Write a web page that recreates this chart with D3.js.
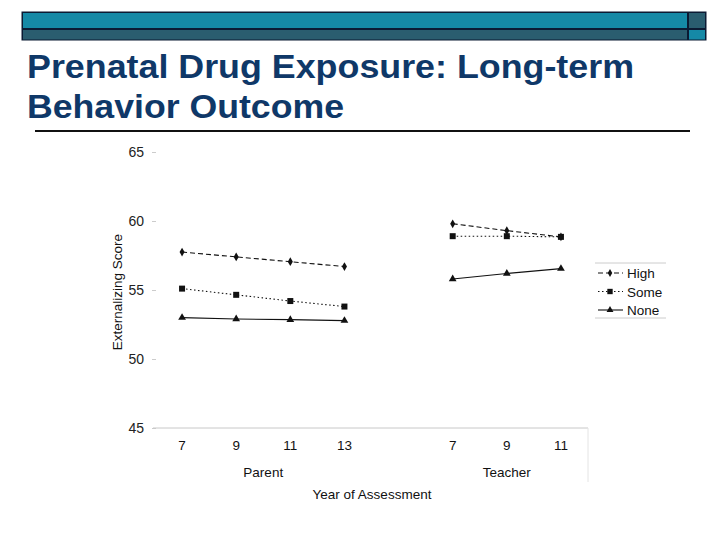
<!DOCTYPE html>
<html><head><meta charset="utf-8">
<script src="https://cdn.jsdelivr.net/npm/d3@7"></script>
<style>body{margin:0;background:#fff}svg{display:block}</style>
</head><body>
<script>
const titleLines = ["Prenatal Drug Exposure: Long-term", "Behavior Outcome"];
const slots = ["P7", "P9", "P11", "P13", "gap", "T7", "T9", "T11"];
const slotLabels = ["7", "9", "11", "13", "", "7", "9", "11"];
const groups = [{name: "Parent", keys: ["P7", "P9", "P11", "P13"]}, {name: "Teacher", keys: ["T7", "T9", "T11"]}];
const yTicks = [45, 50, 55, 60, 65];
const highParent = [57.75, 57.4, 57.05, 56.7];
const highTeacher = [59.8, 59.3, 58.85];
const someParent = [55.1, 54.65, 54.2, 53.8];
const someTeacher = [58.9, 58.9, 58.85];
const noneParent = [53.0, 52.9, 52.85, 52.78];
const noneTeacher = [55.8, 56.2, 56.55];
const seriesNames = ["High", "Some", "None"];

const W = 720, H = 540;
const svg = d3.select("body").append("svg").attr("width", W).attr("height", H);

// header bars
svg.append("rect").attr("x", 21.5).attr("y", 11.5).attr("width", 685).attr("height", 29).attr("fill", "#0b1a33");
svg.append("rect").attr("x", 23).attr("y", 13).attr("width", 664).attr("height", 15).attr("fill", "#1589a6");
svg.append("rect").attr("x", 23).attr("y", 30).attr("width", 664).attr("height", 9.5).attr("fill", "#2a5d6f");
svg.append("rect").attr("x", 689).attr("y", 13).attr("width", 16).attr("height", 15).attr("fill", "#2a5d6f");
svg.append("rect").attr("x", 689).attr("y", 30).attr("width", 16).attr("height", 9.5).attr("fill", "#1589a6");

// title
const tw = [607, 317];
titleLines.forEach((t, i) => {
  svg.append("text").attr("x", 27).attr("y", 78 + i * 40)
    .attr("font-family", "Liberation Sans, Arial, sans-serif").attr("font-weight", "bold")
    .attr("font-size", 34).attr("fill", "#0f3868")
    .attr("textLength", tw[i]).attr("lengthAdjust", "spacingAndGlyphs")
    .text(t);
});
svg.append("line").attr("x1", 35).attr("x2", 690).attr("y1", 131).attr("y2", 131)
  .attr("stroke", "#111").attr("stroke-width", 2);

// scales
const x = d3.scaleBand().domain(slots).range([155, 588]);
const xc = k => x(k) + x.bandwidth() / 2;
const y = d3.scaleLinear().domain([45, 65]).range([428, 152]);
const font = "Liberation Sans, Arial, sans-serif";

// y axis
const ya = svg.append("g").attr("transform", "translate(156,0)")
  .call(d3.axisLeft(y).tickValues(yTicks).tickSize(4).tickPadding(8));
ya.select(".domain").remove();
ya.selectAll(".tick line").attr("stroke", "#ccc");
ya.selectAll(".tick text").attr("font-family", font).attr("font-size", 14).attr("fill", "#222");

// baseline
svg.append("line").attr("x1", 153).attr("x2", 588).attr("y1", y(45)).attr("y2", y(45)).attr("stroke", "#c8c8c8");
svg.append("line").attr("x1", 588).attr("x2", 588).attr("y1", y(45)).attr("y2", 482).attr("stroke", "#e4e4e4");

// x axis labels
const xa = svg.append("g").attr("transform", `translate(0,${y(45)})`)
  .call(d3.axisBottom(x).tickFormat((d, i) => slotLabels[i]).tickSize(0).tickPadding(12));
xa.select(".domain").remove();
xa.selectAll(".tick text").attr("font-family", font).attr("font-size", 13.5).attr("fill", "#111");

groups.forEach(g => {
  const mid = (xc(g.keys[0]) + xc(g.keys[g.keys.length - 1])) / 2;
  svg.append("text").attr("x", mid).attr("y", 477).attr("text-anchor", "middle")
    .attr("font-family", font).attr("font-size", 13.5).attr("fill", "#111").text(g.name);
});
svg.append("text").attr("x", 372).attr("y", 499).attr("text-anchor", "middle")
  .attr("font-family", font).attr("font-size", 13.5).attr("fill", "#111").text("Year of Assessment");
svg.append("text").attr("transform", `translate(122,${y(54.85)}) rotate(-90)`).attr("text-anchor", "middle")
  .attr("font-family", font).attr("font-size", 13.5).attr("fill", "#111").text("Externalizing Score");

// series
const series = [
  {name: "High", parts: [highParent, highTeacher], dash: "5,3", sym: d3.symbolDiamond, size: 22},
  {name: "Some", parts: [someParent, someTeacher], dash: "1.5,2.5", sym: d3.symbolSquare, size: 36},
  {name: "None", parts: [noneParent, noneTeacher], dash: null, sym: d3.symbolTriangle, size: 26}
];
const line = d3.line().x(d => xc(d.k)).y(d => y(d.v));
series.forEach(s => {
  s.parts.forEach((vals, gi) => {
    const pts = vals.map((v, i) => ({k: groups[gi].keys[i], v}));
    svg.append("path").datum(pts).attr("d", line).attr("fill", "none")
      .attr("stroke", "#111").attr("stroke-width", 1.1)
      .attr("stroke-dasharray", s.dash);
    svg.selectAll(null).data(pts).enter().append("path")
      .attr("d", d3.symbol().type(s.sym).size(s.size))
      .attr("transform", d => `translate(${xc(d.k)},${y(d.v)})`).attr("fill", "#111");
  });
});

// legend
const lg = svg.append("g");
lg.append("line").attr("x1", 595).attr("x2", 666).attr("y1", 263).attr("y2", 263).attr("stroke", "#ccc");
lg.append("line").attr("x1", 595).attr("x2", 666).attr("y1", 318).attr("y2", 318).attr("stroke", "#ccc");
series.forEach((s, i) => {
  const yy = 273 + i * 18.5;
  lg.append("line").attr("x1", 598).attr("x2", 623).attr("y1", yy).attr("y2", yy)
    .attr("stroke", "#111").attr("stroke-width", 1.1).attr("stroke-dasharray", s.dash);
  lg.append("path").attr("d", d3.symbol().type(s.sym).size(s.size * 0.8))
    .attr("transform", `translate(610,${yy})`).attr("fill", "#111");
  lg.append("text").attr("x", 627).attr("y", yy + 5).attr("font-family", font)
    .attr("font-size", 13.5).attr("fill", "#111").text(s.name);
});
</script>
</body></html>
